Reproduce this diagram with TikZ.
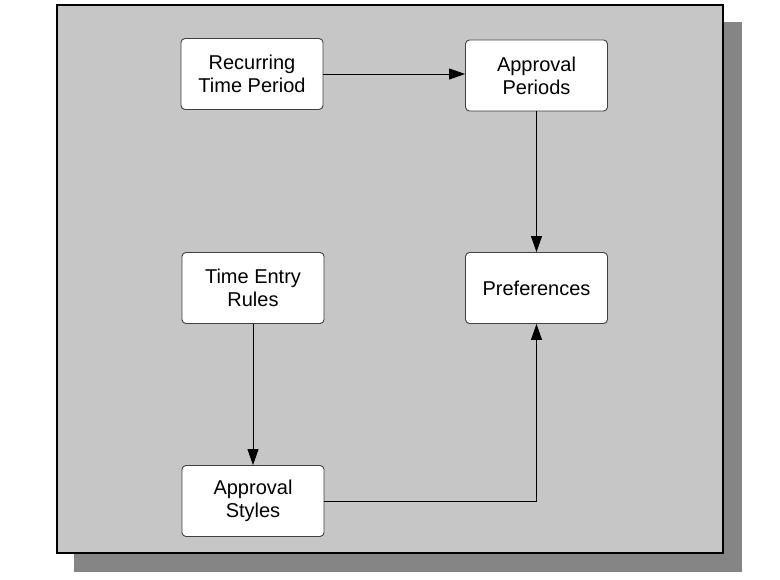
\documentclass[tikz,border=0pt]{standalone}
\usepackage{fontspec}
\setmainfont{Liberation Sans}
\usetikzlibrary{arrows.meta}
\definecolor{panelgray}{HTML}{C6C6C6}
\definecolor{shadowgray}{HTML}{858585}
\definecolor{boxedge}{HTML}{404040}
\tikzset{
  box/.style={draw=boxedge, line width=0.9pt, fill=white, rounded corners=4pt,
    minimum width=142pt, minimum height=71pt, align=center,
    font=\fontsize{20pt}{23pt}\selectfont, inner sep=0pt},
  conn/.style={draw=black, line width=0.9pt, -{Triangle[length=16pt,width=11pt]}},
}
\begin{document}
\begin{tikzpicture}[x=1pt,y=-1pt]
\useasboundingbox (0,0) rectangle (780,580);
\fill[shadowgray] (74,22) rectangle (742,572);
\draw[fill=panelgray, line width=2pt] (57,5) rectangle (723,553);
\node[box] (rtp) at (252,74) {Recurring\\Time Period};
\node[box] (ap) at (536.5,75.5) {Approval\\Periods};
\node[box] (pref) at (536.5,288) {Preferences};
\node[box] (ter) at (253,288) {Time Entry\\Rules};
\node[box] (as) at (253,501) {Approval\\Styles};
\draw[conn] (rtp.east) -- (rtp.east -| ap.west);
\draw[conn] (ap.south) -- (pref.north);
\draw[conn] (ter.south) -- (as.north);
\draw[conn] (as.east) -| (pref.south);
\end{tikzpicture}
\end{document}
